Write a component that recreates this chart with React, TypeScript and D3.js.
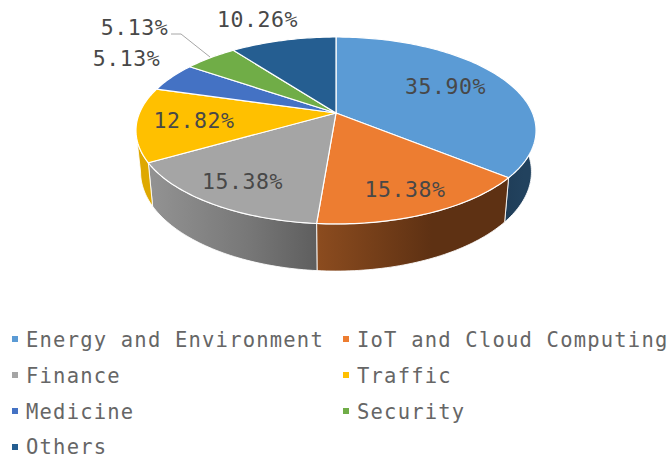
import React from "react";
import * as d3 from "d3";

const categories = ["Energy and Environment", "IoT and Cloud Computing", "Finance", "Traffic", "Medicine", "Security", "Others"];
const values = [35.9, 15.38, 15.38, 12.82, 5.13, 5.13, 10.26];
const labels = ["35.90%", "15.38%", "15.38%", "12.82%", "5.13%", "5.13%", "10.26%"];
const colors = ["#5B9BD5", "#ED7D31", "#A5A5A5", "#FFC000", "#4472C4", "#70AD47", "#255E91"];
const labelPos: [number, number][] = [[445.5, 94], [405, 197], [242.5, 189], [194, 128], [126.5, 66], [134.5, 35], [257.5, 26.5]];
const legendCols = [15, 346];
const legendRows = [339, 375, 411, 447];
const legendBase = [347, 383, 418.5, 454];
const FONT = "'DejaVu Sans Mono', monospace";

const CX = 336, CY = 113, R = 196.5, RY = 90.2, K = 0.187;
const BOT_S = 0.977, BOT_H = 40.4;

function top(a: number): [number, number] {
  const u = Math.sin(a), v = -Math.cos(a), d = 1 - K * v;
  return [CX + (R * u) / d, CY + (RY * v) / d];
}
function bottom(a: number): [number, number] {
  const u = Math.sin(a), v = -Math.cos(a), d = 1 - K * v;
  return [CX + (BOT_S * R * u) / d, CY + (BOT_S * RY * v + BOT_H) / d];
}
const line = d3.line<[number, number]>().x(p => p[0]).y(p => p[1]);
function samples(a0: number, a1: number): number[] {
  const n = Math.max(2, Math.ceil(Math.abs(a1 - a0) / 0.02));
  return d3.range(n + 1).map(i => a0 + ((a1 - a0) * i) / n);
}

const arcs = d3.pie<number>().sort(null).value(d => d)(values);
const RIGHT = Math.PI - Math.acos(K), LEFT = Math.PI + Math.acos(K);

const sideStops: [string, string, string][] = [
  ["#1F3D58", "#22425E", "#22425E"],
  ["#8C4C1F", "#5E3113", "#5E3113"],
  ["#939393", "#777777", "#5E5E5E"],
  ["#DEA800", "#DEA800", "#DEA800"],
];

export default function App() {
  return (
    <svg width={671} height={455} style={{ position: "absolute", left: 0, top: 0, background: "#fff" }}>
      <defs>
        {sideStops.map((s, i) => (
          <linearGradient key={i} id={`side${i}`} x1="0" x2="1" y1="0" y2="0">
            <stop offset="0%" stopColor={s[0]} />
            <stop offset="60%" stopColor={s[1]} />
            <stop offset="100%" stopColor={s[2]} />
          </linearGradient>
        ))}
      </defs>
      {arcs.map((a, i) => {
        const a0 = Math.max(a.startAngle, i === 0 ? RIGHT - 0.35 : 0);
        const a1 = Math.min(a.endAngle, LEFT);
        if (a1 <= a0 || a.startAngle > LEFT) return null;
        const s = samples(a0, a1);
        const pts = [...s.map(top), ...s.slice().reverse().map(bottom)];
        return <path key={i} d={line(pts) + "Z"} fill={`url(#side${i})`} stroke="#fff" strokeWidth={1} strokeOpacity={0.85} />;
      })}
      {arcs.map((a, i) => {
        const pts: [number, number][] = [[CX, CY], ...samples(a.startAngle, a.endAngle).map(top)];
        return <path key={i} d={line(pts) + "Z"} fill={colors[i]} stroke="#fff" strokeWidth={1.2} strokeLinejoin="round" />;
      })}
      <polyline points="171,34 181,34 210,57" fill="none" stroke="#A6A6A6" strokeWidth={1} />
      {labels.map((t, i) => (
        <text key={i} x={labelPos[i][0]} y={labelPos[i][1]} textAnchor="middle"
          fontFamily={FONT} fontSize={21.5} letterSpacing={0.55} fill="#484848">{t}</text>
      ))}
      {categories.map((c, i) => {
        const x = legendCols[i % 2], r = Math.floor(i / 2);
        return (
          <g key={c}>
            <rect x={x - 3} y={legendRows[r] - 3} width={6} height={6} fill={colors[i]} />
            <text x={x + 11} y={legendBase[r]} fontFamily={FONT} fontSize={20.5} letterSpacing={1.2} fill="#666666">{c}</text>
          </g>
        );
      })}
    </svg>
  );
}
